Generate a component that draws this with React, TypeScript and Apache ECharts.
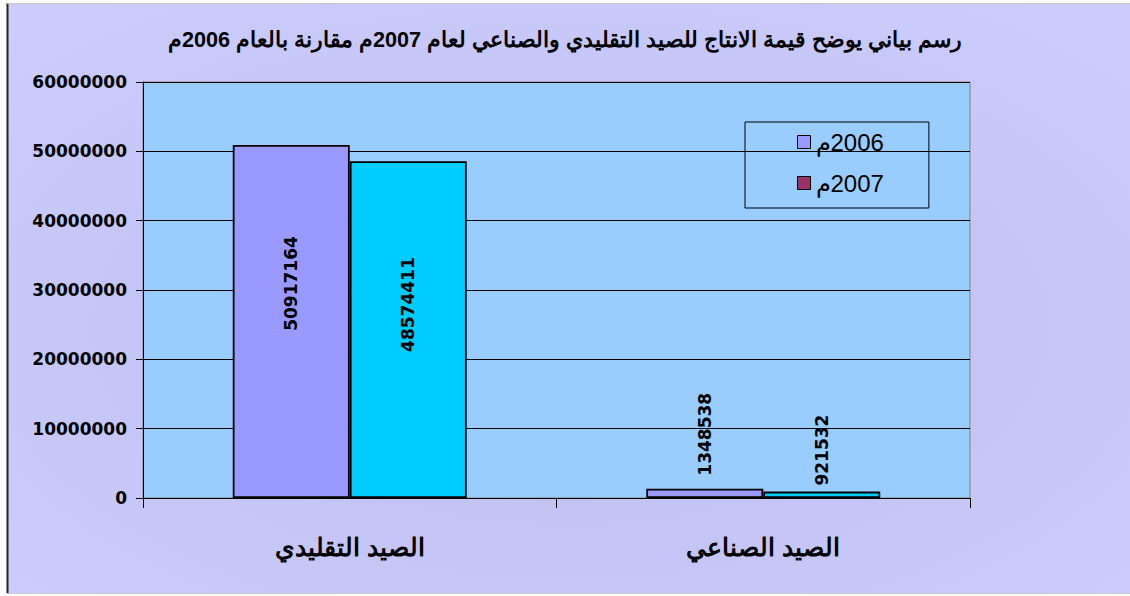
import React, { useEffect, useRef } from "react";
import * as echarts from "echarts";

const title = "رسم بياني يوضح قيمة الانتاج للصيد التقليدي والصناعي لعام 2007م مقارنة بالعام 2006م";
const categories = ["الصيد التقليدي", "الصيد الصناعي"];
const seriesNames = ["\u200F2006م", "\u200F2007م"];
const values2006 = [50917164, 1348538];
const values2007 = [48574411, 921532];
const yTicks = { min: 0, max: 60000000, interval: 10000000 };

export default function App() {
  const ref = useRef<HTMLDivElement>(null);
  useEffect(() => {
    const chart = echarts.init(ref.current!, null, { renderer: "svg" });
    const font = "Arial, 'Liberation Sans', sans-serif";
    const numFont = "'DejaVu Sans', sans-serif";
    // label placement per series/category (inside shift up, or gap above small bars)
    const insideShift = [[38, 0], [25, 0]];
    const topGap = [[0, 13], [0, 6]];
    const mkLabel = (v: number, s: number, i: number) =>
      v > 10000000
        ? { show: true, position: "inside", rotate: 90, offset: [insideShift[s][i], 0], fontFamily: numFont, fontWeight: "bold", fontSize: 17, color: "#000" }
        : { show: true, position: "top", rotate: 90, align: "left", verticalAlign: "middle", distance: topGap[s][i], fontFamily: numFont, fontWeight: "bold", fontSize: 17, color: "#000" };
    chart.setOption({
      animation: false,
      backgroundColor: "#ffffff",
      graphic: [
        {
          type: "rect",
          z: -10,
          silent: true,
          shape: { x: 7, y: 3, width: 1125, height: 590 },
          style: {
            fill: new echarts.graphic.RadialGradient(0.5, 0.55, 0.7, [
              { offset: 0, color: "#bcbcec" },
              { offset: 1, color: "#cdcdfd" },
            ]),
          },
        },
        { type: "line", z: -9, silent: true, shape: { x1: 7.5, y1: 3, x2: 7.5, y2: 593 }, style: { stroke: "#222", lineWidth: 2 } },
        { type: "line", z: -9, silent: true, shape: { x1: 7, y1: 3.5, x2: 1130, y2: 3.5 }, style: { stroke: "#c8c8c8", lineWidth: 1 } },
        { type: "line", z: -9, silent: true, shape: { x1: 7, y1: 593.5, x2: 1130, y2: 593.5 }, style: { stroke: "#c8c8c8", lineWidth: 1 } },
      ],
      title: {
        text: title,
        left: "center",
        top: 23,
        textStyle: { fontFamily: font, fontWeight: "bold", fontSize: 21.6, color: "#000" },
      },
      legend: {
        left: 745,
        top: 122,
        orient: "vertical",
        itemWidth: 13,
        itemHeight: 13,
        itemGap: 17,
        padding: [8, 45, 13, 52],
        borderColor: "#000",
        borderWidth: 1,
        icon: "rect",
        textStyle: { fontFamily: font, fontSize: 24, color: "#000" },
        data: [
          { name: seriesNames[0], itemStyle: { color: "#9999ff", borderColor: "#000", borderWidth: 1 } },
          { name: seriesNames[1], itemStyle: { color: "#993366", borderColor: "#000", borderWidth: 1 } },
        ],
      },
      grid: {
        left: 143,
        right: 160,
        top: 82,
        bottom: 98,
        show: true,
        backgroundColor: "#99ccff",
        borderColor: "#808080",
        borderWidth: 1,
      },
      xAxis: {
        type: "category",
        data: categories,
        axisLine: { lineStyle: { color: "#000", width: 1 } },
        axisTick: { show: true, length: 10, lineStyle: { color: "#000" } },
        axisLabel: { margin: 36, fontFamily: font, fontWeight: "bold", fontSize: 25, color: "#000" },
      },
      yAxis: {
        type: "value",
        min: yTicks.min,
        max: yTicks.max,
        interval: yTicks.interval,
        axisLine: { show: true, lineStyle: { color: "#000" } },
        axisTick: { show: true, length: 7, lineStyle: { color: "#000" } },
        axisLabel: { margin: 16, fontFamily: numFont, fontWeight: "bold", fontSize: 17, color: "#000", formatter: (v: number) => String(v) },
        splitLine: { lineStyle: { color: "#000", width: 1 } },
      },
      series: [
        {
          name: seriesNames[0],
          type: "bar",
          barWidth: 117,
          barGap: "0%",
          itemStyle: { color: "#9999ff", borderColor: "#000", borderWidth: 1.8 },
          data: values2006.map((v, i) => ({ value: v, label: mkLabel(v, 0, i) })),
        },
        {
          name: seriesNames[1],
          type: "bar",
          barWidth: 117,
          barGap: "0%",
          itemStyle: { color: "#00ccff", borderColor: "#000", borderWidth: 1.8 },
          data: values2007.map((v, i) => ({ value: v, label: mkLabel(v, 1, i) })),
        },
      ],
    });
    return () => chart.dispose();
  }, []);
  return <div ref={ref} style={{ position: "fixed", left: 0, top: 0, width: 1130, height: 596 }} />;
}
